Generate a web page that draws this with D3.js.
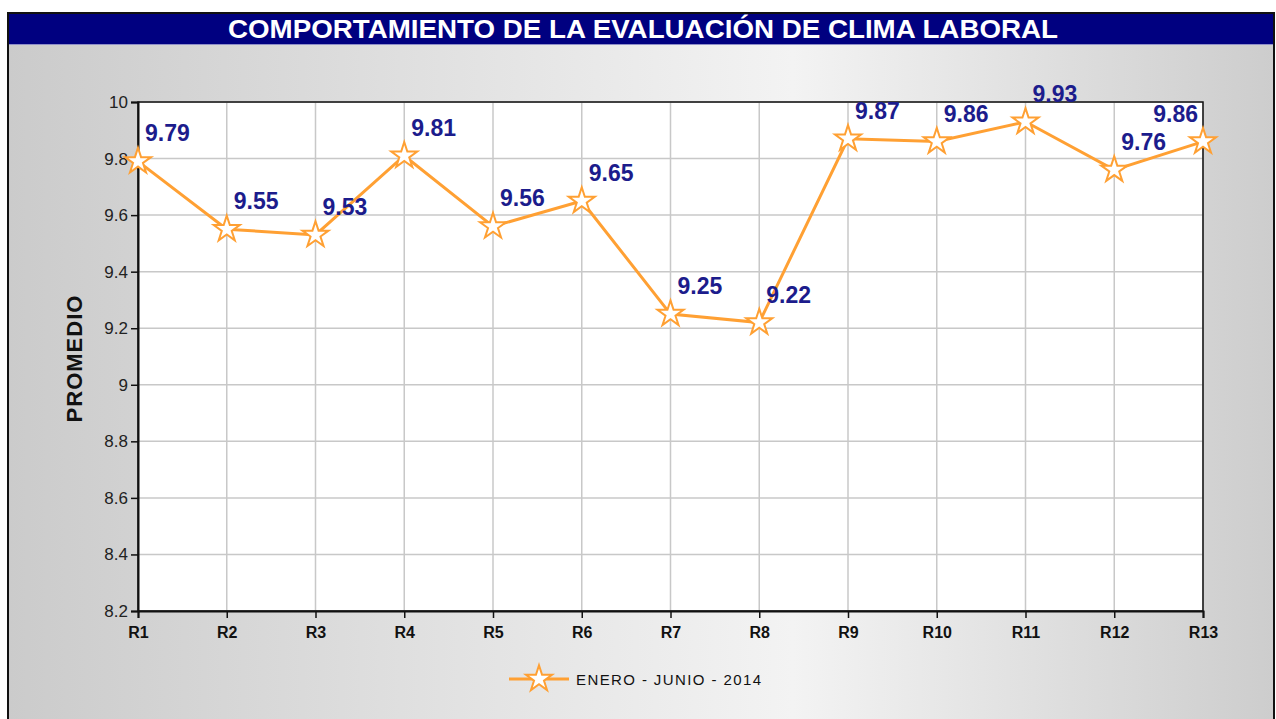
<!DOCTYPE html>
<html>
<head>
<meta charset="utf-8">
<script src="https://cdn.jsdelivr.net/npm/d3@7"></script>
<style>
  body { margin: 0; background: #fff; }
  svg { display: block; font-family: "Liberation Sans", Arial, sans-serif; }
</style>
</head>
<body>
<svg id="chart" width="1276" height="719"></svg>
<script>
// data
var categories = ["R1","R2","R3","R4","R5","R6","R7","R8","R9","R10","R11","R12","R13"];
var promedio = [9.79, 9.55, 9.53, 9.81, 9.56, 9.65, 9.25, 9.22, 9.87, 9.86, 9.93, 9.76, 9.86];
var yTicks = [8.2, 8.4, 8.6, 8.8, 9, 9.2, 9.4, 9.6, 9.8, 10];
var seriesName = "ENERO - JUNIO - 2014";
var title = "COMPORTAMIENTO DE LA EVALUACIÓN DE CLIMA LABORAL";

var svg = d3.select("#chart"),
    margin = {top: 102, right: 73, bottom: 108, left: 138},
    width = +svg.attr("width") - margin.left - margin.right,
    height = +svg.attr("height") - margin.top - margin.bottom;

var defs = svg.append("defs");
var grad = defs.append("linearGradient").attr("id", "bg")
    .attr("x1", "0%").attr("x2", "100%").attr("y1", "0%").attr("y2", "0%");
grad.append("stop").attr("offset", "0%").attr("stop-color", "#cbcbcb");
grad.append("stop").attr("offset", "62%").attr("stop-color", "#f3f3f3");
grad.append("stop").attr("offset", "100%").attr("stop-color", "#cdcdcd");

// frame + background
svg.append("rect").attr("x", 8).attr("y", 13).attr("width", 1266).attr("height", 720)
    .attr("fill", "url(#bg)").attr("stroke", "#111").attr("stroke-width", 2);
svg.append("rect").attr("x", 9).attr("y", 14).attr("width", 1264).attr("height", 30)
    .attr("fill", "#000080");
svg.append("line").attr("x1", 9).attr("x2", 1273).attr("y1", 44.5).attr("y2", 44.5)
    .attr("stroke", "#8f8fc8").attr("stroke-width", 1);
svg.append("text").attr("x", 643).attr("y", 38).attr("text-anchor", "middle")
    .attr("fill", "#fff").attr("font-weight", "bold").attr("font-size", 26)
    .attr("textLength", 830).attr("lengthAdjust", "spacingAndGlyphs")
    .text(title);

var x = d3.scalePoint().domain(categories).range([0, width]).padding(0),
    y = d3.scaleLinear().domain([8.2, 10]).range([height, 0]);

var g = svg.append("g")
    .attr("transform", "translate(" + margin.left + "," + margin.top + ")");

g.append("rect").attr("width", width).attr("height", height).attr("fill", "#fff");

// grid
g.append("g").selectAll("line").data(yTicks).enter().append("line")
    .attr("x1", 0).attr("x2", width)
    .attr("y1", function(d) { return y(d); }).attr("y2", function(d) { return y(d); })
    .attr("stroke", "#c8c8c8").attr("stroke-width", 1.5);
g.append("g").selectAll("line").data(categories).enter().append("line")
    .attr("x1", function(d) { return x(d); }).attr("x2", function(d) { return x(d); })
    .attr("y1", 0).attr("y2", height)
    .attr("stroke", "#c8c8c8").attr("stroke-width", 1.5);

g.append("rect").attr("width", width).attr("height", height)
    .attr("fill", "none").attr("stroke", "#111").attr("stroke-width", 1.5);

// axes
var yAxis = g.append("g")
    .call(d3.axisLeft(y).tickValues(yTicks).tickSize(7).tickPadding(3)
      .tickFormat(function(d) { return d3.format("")(+d.toFixed(1)); }));
yAxis.select(".domain").attr("stroke", "#111").attr("stroke-width", 2);
yAxis.selectAll("line").attr("stroke", "#111").attr("stroke-width", 1.5);
yAxis.selectAll("text").attr("font-size", 17).attr("fill", "#222")
    .attr("font-family", "Liberation Sans, Arial, sans-serif");

var xAxis = g.append("g").attr("transform", "translate(0," + height + ")")
    .call(d3.axisBottom(x).tickSize(7).tickPadding(9));
xAxis.select(".domain").attr("stroke", "#111").attr("stroke-width", 2);
xAxis.selectAll("line").attr("stroke", "#111").attr("stroke-width", 1.5);
xAxis.selectAll("text").attr("font-size", 16).attr("font-weight", "bold").attr("fill", "#111")
    .attr("font-family", "Liberation Sans, Arial, sans-serif");

svg.append("text")
    .attr("transform", "translate(82," + (margin.top + height / 2 + 2) + ") rotate(-90)")
    .attr("text-anchor", "middle").attr("font-size", 22).attr("font-weight", "bold")
    .attr("letter-spacing", 1)
    .attr("fill", "#111").text("PROMEDIO");

// line
var line = d3.line()
    .x(function(d, i) { return x(categories[i]); })
    .y(function(d) { return y(d); });
g.append("path").datum(promedio)
    .attr("fill", "none").attr("stroke", "#ffa033").attr("stroke-width", 3)
    .attr("d", line);

var star = d3.symbol().type(d3.symbolStar).size(210);
g.selectAll(".pt").data(promedio).enter().append("path")
    .attr("class", "pt")
    .attr("transform", function(d, i) { return "translate(" + x(categories[i]) + "," + y(d) + ")"; })
    .attr("d", star)
    .attr("fill", "#fff").attr("stroke", "#ffa033").attr("stroke-width", 2);

// labels
g.selectAll(".lbl").data(promedio).enter().append("text")
    .attr("class", "lbl")
    .attr("x", function(d, i) { return x(categories[i]) + (i === categories.length - 1 ? -5 : 7); })
    .attr("y", function(d) { return y(d) - 20; })
    .attr("text-anchor", function(d, i) { return i === categories.length - 1 ? "end" : "start"; })
    .attr("font-size", 23).attr("font-weight", "bold").attr("fill", "#1c1c8c")
    .text(function(d) { return d.toFixed(2); });

// legend
var leg = svg.append("g").attr("transform", "translate(509,679)");
leg.append("line").attr("x1", 0).attr("x2", 60).attr("y1", 0).attr("y2", 0)
    .attr("stroke", "#ffa033").attr("stroke-width", 3);
leg.append("path").attr("transform", "translate(30,0)").attr("d", star)
    .attr("fill", "#fff").attr("stroke", "#ffa033").attr("stroke-width", 2);
leg.append("text").attr("x", 67).attr("y", 6).attr("font-size", 15)
    .attr("letter-spacing", 1.4).attr("fill", "#111").text(seriesName);
</script>
</body>
</html>
